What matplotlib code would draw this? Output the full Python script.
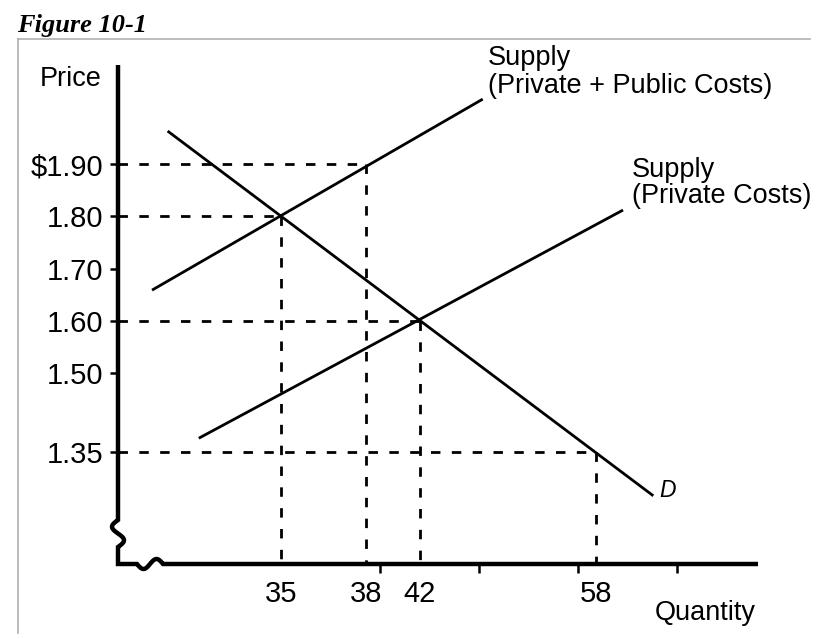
import numpy as np
import matplotlib
matplotlib.use("Agg")
import matplotlib.pyplot as plt
from matplotlib.lines import Line2D

plt.rcParams['font.family'] = ['Liberation Sans', 'DejaVu Sans']
plt.rcParams['lines.scale_dashes'] = False

# data
demand_q = [31.0, 63.2]
demand_p = [1.963, 1.266]
supply_public_q = [30.45, 47.7]
supply_public_p = [1.659, 2.024]
supply_private_q = [32.1, 60.45]
supply_private_p = [1.376, 1.812]

# points marked with dashed guides
mark_q = [38, 35, 42, 58]
mark_p = [1.90, 1.80, 1.60, 1.35]

price_ticks = [1.35, 1.50, 1.60, 1.70, 1.80, 1.90]
price_labels = ['1.35', '1.50', '1.60', '1.70', '1.80', '$1.90']
qty_ticks = [35, 38, 42, 58]
qty_labels = ['35', '38', '42', '58']

# the quantity axis in the figure is not evenly spaced: piecewise scale
Q_KNOTS = [29.25, 35, 38, 42, 58, 72.7]
U_KNOTS = [0.0, 0.2547, 0.3875, 0.4719, 0.7469, 1.0]


def fwd(q):
    return np.interp(q, Q_KNOTS, U_KNOTS)


def inv(u):
    return np.interp(u, U_KNOTS, Q_KNOTS)


W, H = 825, 639
fig = plt.figure(figsize=(W / 100, H / 100), dpi=100)
ax = fig.add_axes([118 / W, 1 - 564 / H, 640 / W, 499 / H])
ax.set_xscale('function', functions=(fwd, inv))
ax.set_xlim(Q_KNOTS[0], Q_KNOTS[-1])
ax.set_ylim(1.1357, 2.0892)

for s in ax.spines.values():
    s.set_visible(False)

x0 = Q_KNOTS[0]
y0 = 1.1357
dash = dict(color='black', lw=2.0, dashes=(6.8, 8.2), zorder=2)
for q, p in zip(mark_q, mark_p):
    ax.plot([x0, q], [p, p], **dash)
    ax.plot([q, q], [p, y0], **dash)

solid = dict(color='black', lw=2.0, zorder=3, solid_capstyle='butt')
ax.plot(demand_q, demand_p, **solid)
ax.plot(supply_public_q, supply_public_p, **solid)
ax.plot(supply_private_q, supply_private_p, **solid)

# axis lines with break marks
t = np.linspace(0, 1, 30)
yb_x = -6 / 640 * np.sin(2 * np.pi * t)
yb_y = (44 - 27 * t) / 499
xb_x = (19 + 26 * t) / 640
xb_y = -5 / 499 * np.sin(2 * np.pi * t)
ax_x = np.concatenate([[0, 0], yb_x, [0, 0], xb_x, [1.0]])
ax_y = np.concatenate([[1, 44 / 499], yb_y, [17 / 499, 0], xb_y, [0]])
ax.plot(ax_x, ax_y, color='black', lw=3.2, transform=ax.transAxes,
        clip_on=False, zorder=4, solid_joinstyle='miter', solid_capstyle='butt')

ax.set_yticks(price_ticks)
ax.set_yticklabels(price_labels, fontsize=21)
ax.tick_params(axis='y', direction='out', length=6, width=1.8, pad=4.5)

ax.set_xticks(qty_ticks)
ax.set_xticklabels(qty_labels, fontsize=21)
ax.tick_params(axis='x', which='major', length=0, pad=11.2)
ax.set_xticks(inv(0.2547 + 0.1547 * np.arange(5)), minor=True)
ax.tick_params(axis='x', which='minor', direction='out', length=6.5, width=1.8)


def px(x, y):
    return x / W, 1 - y / H


fig.text(*px(40, 86), 'Price', fontsize=19.5, va='baseline')
fig.text(*px(655, 620), 'Quantity', fontsize=19.5, va='baseline')
fig.text(*px(488, 65), 'Supply', fontsize=19.5, va='baseline')
fig.text(*px(488, 93), '(Private + Public Costs)', fontsize=19.5, va='baseline')
fig.text(*px(632, 177), 'Supply', fontsize=19.5, va='baseline')
fig.text(*px(632, 203), '(Private Costs)', fontsize=19.5, va='baseline')
fig.text(*px(659, 497), 'D', fontsize=16.5, style='italic', va='baseline')

fig.text(*px(17, 32), 'Figure 10-1', fontsize=19, family='Liberation Serif',
         weight='bold', style='italic', va='baseline')

# thin frame lines (top and left)
fig.add_artist(Line2D([18 / W, 810 / W], [1 - 39 / H, 1 - 39 / H], color='#b0b0b0', lw=1.2))
fig.add_artist(Line2D([18 / W, 18 / W], [1 - 39 / H, 1 - 633 / H], color='#b0b0b0', lw=1.2))

fig.savefig('out.png', dpi=100)
